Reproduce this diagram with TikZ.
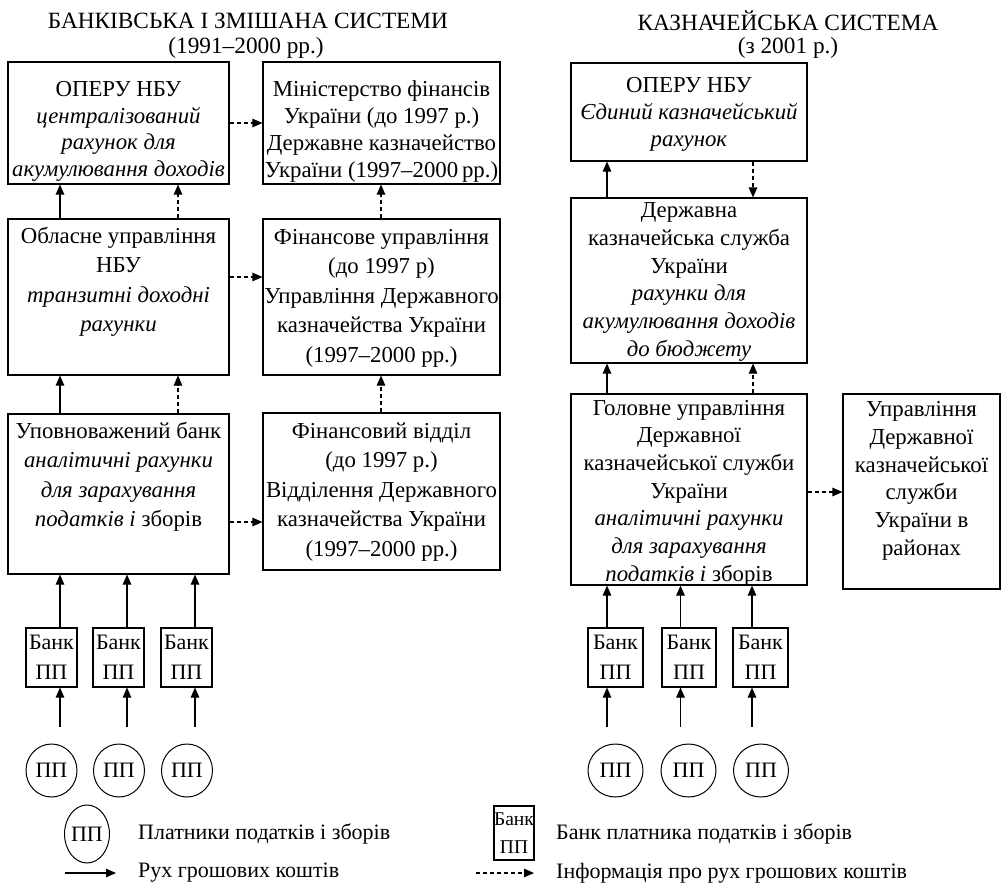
\documentclass[tikz,border=0pt]{standalone}
\usepackage{fontspec}
\setmainfont{Liberation Serif}
\usetikzlibrary{arrows.meta,shapes.geometric,calc}
\begin{document}
\begin{tikzpicture}[x=1pt,y=-1pt,
  box/.style={draw,line width=1.1pt,inner sep=0pt},
  txt/.style={align=center,inner sep=0pt,font=\fontsize{22.8}{26.8}\selectfont},
  txtw/.style={align=center,inner sep=0pt,font=\fontsize{22.8}{29.5}\selectfont},
  txtc/.style={align=center,inner sep=0pt,font=\fontsize{22.8}{27.7}\selectfont},
  bankbox/.style={draw,line width=1.1pt,inner sep=0pt,minimum height=59pt,align=center,font=\fontsize{22}{30}\selectfont},
  payer/.style={draw,ellipse,line width=1pt,inner sep=0pt,minimum width=51pt,minimum height=53pt,font=\fontsize{22}{26}\selectfont},
  flow/.style={line width=1.1pt,-{Triangle[width=8.5pt,length=10pt]}},
  info/.style={flow,dash pattern=on 4pt off 3pt},
  legtxt/.style={anchor=west,inner sep=0pt,font=\fontsize{22}{26}\selectfont},
  ttl/.style={inner sep=0pt,font=\fontsize{23.3}{27}\selectfont}
  ]
\path[use as bounding box,fill=white] (0,0) rectangle (1006,891);

% titles
\node[ttl] (t1) at (248,21) {БАНКІВСЬКА І ЗМІШАНА СИСТЕМИ};
\node[ttl] (t1b) at (246,48) {(1991–2000 рр.)};
\node[ttl] (t2) at (788,21) {КАЗНАЧЕЙСЬКА СИСТЕМА};
\node[ttl] (t2b) at (788,48) {(з 2001 р.)};

% left column boxes
\node[box,minimum width=221pt,minimum height=122pt] (a1) at (118.5,123) {};
\node[box,minimum width=237pt,minimum height=122pt] (b1) at (381.5,123) {};
\node[box,minimum width=221pt,minimum height=156pt] (a2) at (118.5,297) {};
\node[box,minimum width=237pt,minimum height=156pt] (b2) at (381.5,297) {};
\node[box,minimum width=221pt,minimum height=160pt] (a3) at (118.5,494) {};
\node[box,minimum width=237pt,minimum height=157pt] (b3) at (381.5,491.5) {};

\node[txt] (a1t) at (118.5,131.5) {ОПЕРУ НБУ\\ \textit{централізований}\\ \textit{рахунок для}\\ \textit{акумулювання доходів}};
\node[txt] (b1t) at (381.5,131.5) {Міністерство фінансів\\ України (до 1997 р.)\\ Державне казначейство\\ України (1997–2000\,рр.)};
\node[txtw] (a2t) at (118.5,282) {Обласне управління\\ НБУ\\ \textit{транзитні доходні}\\ \textit{рахунки}};
\node[txtw] (b2t) at (381.5,298) {Фінансове управління\\ (до 1997 р)\\ Управління Державного\\ казначейства України\\ (1997–2000 рр.)};
\node[txtw] (a3t) at (118.5,477) {Уповноважений банк\\ \textit{аналітичні рахунки}\\ \textit{для зарахування}\\ \textit{податків і} зборів};
\node[txtw] (b3t) at (381.5,492) {Фінансовий відділ\\ (до 1997 р.)\\ Відділення Державного\\ казначейства України\\ (1997–2000 рр.)};

% right column boxes
\node[box,minimum width=236pt,minimum height=98pt] (c1) at (689,112) {};
\node[box,minimum width=236pt,minimum height=165pt] (c2) at (689,280.5) {};
\node[box,minimum width=236pt,minimum height=191pt] (c3) at (689,489.5) {};
\node[box,minimum width=157pt,minimum height=195pt] (d3) at (921.5,491.5) {};

\node[txt] (c1t) at (689,114.5) {ОПЕРУ НБУ\\ \textit{Єдиний казначейський}\\ \textit{рахунок}};
\node[txtc] (c2t) at (689,282) {Державна\\ казначейська служба\\ України\\ \textit{рахунки для}\\ \textit{акумулювання доходів}\\ \textit{до бюджету}};
\node[txtc] (c3t) at (689,493) {Головне управління\\ Державної\\ казначейської служби\\ України\\ \textit{аналітичні рахунки}\\ \textit{для зарахування}\\ \textit{податків і} зборів};
\node[txtc] (d3t) at (921.5,481) {Управління\\ Державної\\ казначейської\\ служби\\ України в\\ районах};

% bank boxes
\node[bankbox,minimum width=51pt] (bl1) at (51.5,657.5) {Банк\\ПП};
\node[bankbox,minimum width=51pt] (bl2) at (118.5,657.5) {Банк\\ПП};
\node[bankbox,minimum width=51pt] (bl3) at (186.5,657.5) {Банк\\ПП};
\node[bankbox,minimum width=55pt] (br1) at (615.5,657.5) {Банк\\ПП};
\node[bankbox,minimum width=54pt] (br2) at (689,657.5) {Банк\\ПП};
\node[bankbox,minimum width=55pt] (br3) at (760.5,657.5) {Банк\\ПП};

% payers
\node[payer] (pl1) at (51.5,770.5) {ПП};
\node[payer] (pl2) at (119,770.5) {ПП};
\node[payer] (pl3) at (187,770.5) {ПП};
\node[payer,minimum width=55pt] (pr1) at (615.5,770.5) {ПП};
\node[payer,minimum width=55pt] (pr2) at (688.5,770.5) {ПП};
\node[payer,minimum width=55pt] (pr3) at (761,770.5) {ПП};

% column coordinates
\coordinate (xa) at (60,0);
\coordinate (xb) at (178,0);
\coordinate (xc) at (381,0);
\coordinate (xr) at (607,0);
\coordinate (xs) at (753,0);

% left connectors
\draw[flow] (a2.north -| xa) -- (a1.south -| xa);
\draw[info] (a2.north -| xb) -- (a1.south -| xb);
\draw[info] (b2.north -| xc) -- (b1.south -| xc);
\draw[info] (a1.east) -- (b1.west |- a1.east);
\draw[info] ($(a2.east)+(0,-20)$) -- ($(b2.west)+(0,-20)$);
\draw[flow] (a3.north -| xa) -- (a2.south -| xa);
\draw[info] (a3.north -| xb) -- (a2.south -| xb);
\draw[info] (b3.north -| xc) -- (b2.south -| xc);
\draw[info] ($(a3.east)+(0,28)$) -- ($(b3.west)+(0,30.5)$);

% right connectors
\draw[flow] (c2.north -| xr) -- (c1.south -| xr);
\draw[info] (c1.south -| xs) -- (c2.north -| xs);
\draw[flow] (c3.north -| xr) -- (c2.south -| xr);
\draw[info] (c3.north -| xs) -- (c2.south -| xs);
\draw[info] ($(c3.east)+(0,2.5)$) -- ($(d3.west)+(0,0.5)$);

% bank -> main, payer -> bank
\foreach \b in {bl1,bl2,bl3}{
  \draw[flow] ([xshift=8.5pt]\b.north) -- ([xshift=8.5pt]\b.north |- a3.south);
  \draw[flow] ([xshift=8.5pt,yshift=-39pt]\b.south) -- ([xshift=8.5pt]\b.south);
}
\foreach \b in {br1,br2,br3}{
  \draw[flow] ([xshift=-8.5pt]\b.north) -- ([xshift=-8.5pt]\b.north |- c3.south);
  \draw[flow] ([xshift=-8.5pt,yshift=-39pt]\b.south) -- ([xshift=-8.5pt]\b.south);
}

% legend
\node[payer,minimum width=41pt,minimum height=58pt] (lp) at (87,834) {ПП};
\node[legtxt] (lpt) at (138,834) {Платники податків і зборів};
\node[bankbox,minimum width=40pt,minimum height=54pt,font=\fontsize{19.5}{28}\selectfont] (lb) at (514,833) {Банк\\ПП};
\node[legtxt] (lbt) at (556,834) {Банк платника податків і зборів};
\coordinate (ls1) at (65,873);
\coordinate (le1) at (116,873);
\coordinate (ls2) at (476,873);
\coordinate (le2) at (534,873);
\draw[flow] (ls1) -- (le1);
\draw[info] (ls2) -- (le2);
\node[legtxt] (lft) at (138,873) {Рух грошових коштів};
\node[legtxt] (lit) at (556,873) {Інформація про рух грошових коштів};
\end{tikzpicture}
\end{document}
